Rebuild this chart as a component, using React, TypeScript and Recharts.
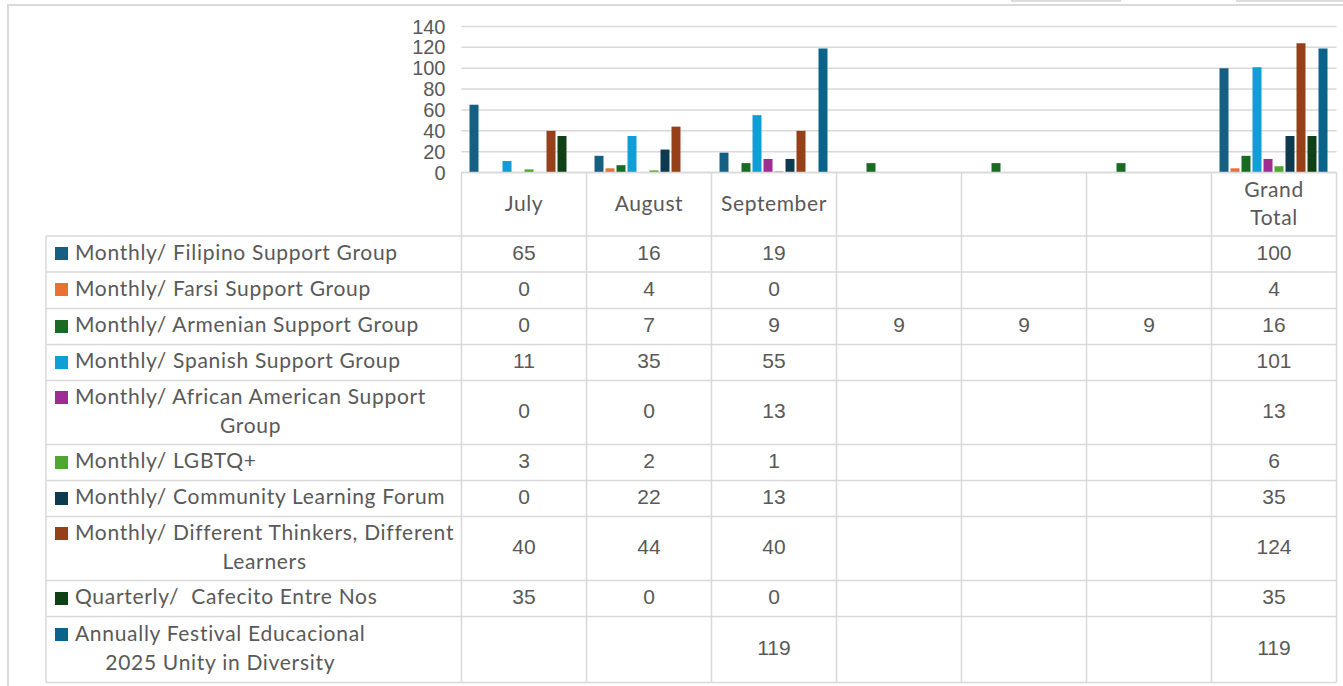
import React from "react";
import { BarChart, Bar, XAxis, YAxis, CartesianGrid } from "recharts";

// ---- data ----
const categories = ["July", "August", "September", "", "", "", "Grand Total"];

const filipino = [65, 16, 19, null, null, null, 100];
const farsi = [0, 4, 0, null, null, null, 4];
const armenian = [0, 7, 9, 9, 9, 9, 16];
const spanish = [11, 35, 55, null, null, null, 101];
const africanAmerican = [0, 0, 13, null, null, null, 13];
const lgbtq = [3, 2, 1, null, null, null, 6];
const learningForum = [0, 22, 13, null, null, null, 35];
const differentThinkers = [40, 44, 40, null, null, null, 124];
const cafecito = [35, 0, 0, null, null, null, 35];
const festival = [null, null, 119, null, null, null, 119];

const yTicks = [0, 20, 40, 60, 80, 100, 120, 140];

const seriesLabels: string[][] = [
  ["Monthly/ Filipino Support Group"],
  ["Monthly/ Farsi Support Group"],
  ["Monthly/ Armenian Support Group"],
  ["Monthly/ Spanish Support Group"],
  ["Monthly/ African American Support", "Group"],
  ["Monthly/ LGBTQ+"],
  ["Monthly/ Community Learning Forum"],
  ["Monthly/ Different Thinkers, Different", "Learners"],
  ["Quarterly/  Cafecito Entre Nos"],
  ["Annually Festival Educacional", "2025 Unity in Diversity"],
];

const seriesValues = [
  filipino,
  farsi,
  armenian,
  spanish,
  africanAmerican,
  lgbtq,
  learningForum,
  differentThinkers,
  cafecito,
  festival,
];

const seriesColors = [
  "#156082",
  "#E97132",
  "#196B24",
  "#0F9ED5",
  "#A02B93",
  "#4EA72E",
  "#0E3A4F",
  "#96401A",
  "#0F4016",
  "#0A6389",
];

// ---- layout ----
const W = 1343;
const H = 686;
const PLOT_LEFT = 461.5;
const PLOT_RIGHT = 1336.5;
const PLOT_TOP = 26.5;
const PLOT_BOTTOM = 172.5;
const BAND = (PLOT_RIGHT - PLOT_LEFT) / categories.length;
const TABLE_LEFT = 46;
const LABEL_X = 75;
const MARK_X = 55;
const ROW_EDGES = [236, 272, 308.5, 344.5, 380.5, 444.5, 480.5, 516.5, 580.5, 616.5, 682.5];
const LINE = "#d9d9d9";
const TEXT = "#595959";
const WORD_FONT = "Lato, 'Noto Sans', sans-serif";
const NUM_FONT = "'Liberation Sans', Arial, sans-serif";
const LINE_H = 29;
const TEXT_SHIFT = -2;

const chartRows = categories.map((c, i) => {
  const row: Record<string, any> = { key: `c${i}`, label: c };
  seriesValues.forEach((vals, s) => {
    row[`s${s}`] = vals[i];
  });
  return row;
});

// Each x-axis tick draws its whole data-table column: header and one cell per series.
const TableColumn = (props: any) => {
  const { x, payload } = props;
  const i: number = props.index ?? payload.index;
  const left = x - BAND / 2;
  const right = x + BAND / 2;
  const label = categories[i];
  const headerLines = label === "Grand Total" ? ["Grand", "Total"] : label ? [label] : [];
  const headerMid = (PLOT_BOTTOM + ROW_EDGES[0]) / 2;
  const els: React.ReactNode[] = [];

  els.push(<line key="vl" x1={left} x2={left} y1={PLOT_BOTTOM} y2={ROW_EDGES[ROW_EDGES.length - 1]} stroke={LINE} strokeWidth={1.5} />);
  if (i === categories.length - 1) {
    els.push(<line key="vr" x1={right} x2={right} y1={PLOT_BOTTOM} y2={ROW_EDGES[ROW_EDGES.length - 1]} stroke={LINE} strokeWidth={1.5} />);
  }
  els.push(<line key="ht" x1={left} x2={right} y1={PLOT_BOTTOM} y2={PLOT_BOTTOM} stroke={LINE} strokeWidth={1.5} />);
  ROW_EDGES.forEach((y, k) => {
    els.push(<line key={`h${k}`} x1={left} x2={right} y1={y} y2={y} stroke={LINE} strokeWidth={1.5} />);
  });

  headerLines.forEach((t, k) => {
    const cy = headerMid + (k - (headerLines.length - 1) / 2) * 28 + TEXT_SHIFT;
    els.push(
      <text key={`hd${k}`} x={x} y={cy} textAnchor="middle" dominantBaseline="central" fill={TEXT} fontSize={21} letterSpacing={0.6} fontFamily={WORD_FONT}>
        {t}
      </text>
    );
  });

  seriesValues.forEach((vals, s) => {
    const v = vals[i];
    if (v === null || v === undefined) return;
    const cy = (ROW_EDGES[s] + ROW_EDGES[s + 1]) / 2 + TEXT_SHIFT;
    els.push(
      <text key={`v${s}`} x={x} y={cy} textAnchor="middle" dominantBaseline="central" fill={TEXT} fontSize={21} fontFamily={NUM_FONT}>
        {v}
      </text>
    );
  });

  // the series-name column sits to the left of the first category
  if (i === 0) {
    els.push(<line key="ll" x1={TABLE_LEFT} x2={TABLE_LEFT} y1={ROW_EDGES[0]} y2={ROW_EDGES[ROW_EDGES.length - 1]} stroke={LINE} strokeWidth={1.5} />);
    ROW_EDGES.forEach((y, k) => {
      els.push(<line key={`lh${k}`} x1={TABLE_LEFT} x2={left} y1={y} y2={y} stroke={LINE} strokeWidth={1.5} />);
    });
  }

  return <g>{els}</g>;
};

const SeriesNameColumn = () => (
  <>
    {seriesLabels.map((lines, s) => {
      const top = ROW_EDGES[s];
      const h = ROW_EDGES[s + 1] - top;
      const mid = top + h / 2;
      const firstLineMid = mid - ((lines.length - 1) * LINE_H) / 2;
      return (
        <React.Fragment key={s}>
          <div
            style={{
              position: "absolute",
              left: MARK_X,
              top: firstLineMid - 6.5 - 0.5,
              width: 13,
              height: 13,
              background: seriesColors[s],
            }}
          />
          <div
            style={{
              position: "absolute",
              left: LABEL_X,
              top: top + TEXT_SHIFT - 1,
              height: h,
              display: "flex",
              alignItems: "center",
            }}
          >
            <div
              style={{
                display: "inline-block",
                textAlign: "center",
                whiteSpace: "pre",
                fontFamily: WORD_FONT,
                fontSize: 21,
                letterSpacing: 0.7,
                lineHeight: `${LINE_H}px`,
                color: TEXT,
              }}
            >
              {lines.map((l, k) => (
                <div key={k}>{l}</div>
              ))}
            </div>
          </div>
        </React.Fragment>
      );
    })}
  </>
);

export default function App() {
  return (
    <div
      style={{
        position: "absolute",
        left: 0,
        top: 0,
        width: W,
        height: H,
        background: "#ffffff",
        overflow: "hidden",
      }}
    >
      {/* chart frame */}
      <div style={{ position: "absolute", left: 7, top: 4, width: W - 7, height: 1.5, background: LINE }} />
      <div style={{ position: "absolute", left: 7, top: 4, width: 1.5, height: H - 4, background: LINE }} />
      <div style={{ position: "absolute", left: 1011, top: 0, width: 110, height: 2, background: "#dcdcdc" }} />
      <div style={{ position: "absolute", left: 1236, top: 0, width: 107, height: 2, background: "#dcdcdc" }} />

      <div style={{ position: "absolute", left: 0, top: 0 }}>
        <BarChart
          width={W}
          height={H}
          data={chartRows}
          margin={{ top: PLOT_TOP, right: W - PLOT_RIGHT, bottom: 0, left: 0 }}
          barCategoryGap={8}
          barGap={2}
        >
          <CartesianGrid vertical={false} stroke={LINE} strokeWidth={1.5} />
          <XAxis
            dataKey="key"
            height={H - PLOT_BOTTOM}
            axisLine={false}
            tickLine={false}
            interval={0}
            tick={TableColumn}
          />
          <YAxis
            width={PLOT_LEFT}
            domain={[0, 140]}
            ticks={yTicks}
            interval={0}
            axisLine={false}
            tickLine={false}
            tickSize={0}
            tickMargin={16}
            tick={{ fill: TEXT, fontSize: 20, fontFamily: NUM_FONT }}
          />
          {seriesValues.map((_, s) => (
            <Bar key={s} dataKey={`s${s}`} fill={seriesColors[s]} isAnimationActive={false} />
          ))}
        </BarChart>
      </div>

      <SeriesNameColumn />
    </div>
  );
}
